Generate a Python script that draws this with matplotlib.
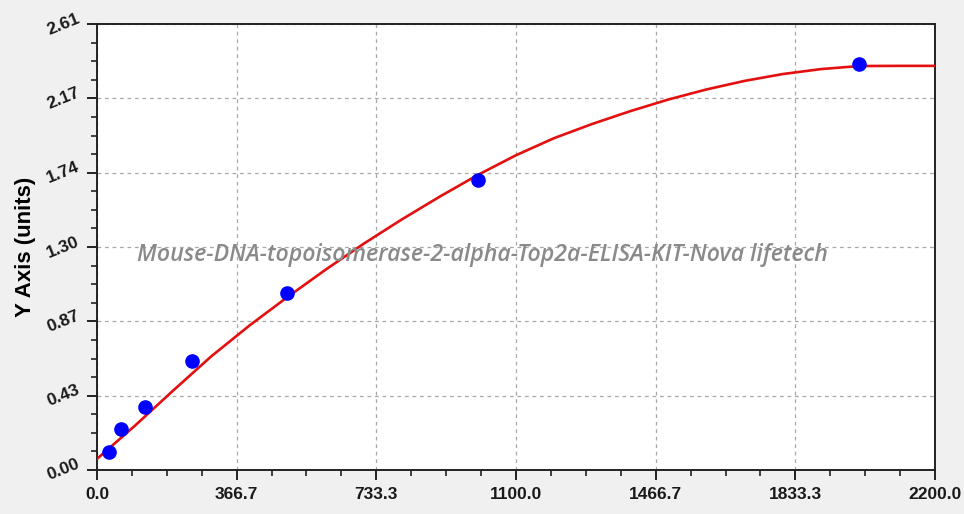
import matplotlib
matplotlib.use("Agg")
import matplotlib.pyplot as plt
from matplotlib.ticker import AutoMinorLocator

# standards (concentration, OD)
conc = [31.25, 62.5, 125, 250, 500, 1000, 2000]
od = [0.107, 0.240, 0.369, 0.638, 1.034, 1.697, 2.376]

# fitted curve, read at every 100 units
curve_x = [0, 100, 200, 300, 400, 500, 600, 700, 800, 900, 1000, 1100,
           1200, 1300, 1400, 1500, 1600, 1700, 1800, 1900, 2000, 2100, 2200]
curve_y = [0.065, 0.26, 0.465, 0.665, 0.845, 1.012, 1.172, 1.324, 1.466, 1.60,
           1.727, 1.842, 1.942, 2.025, 2.10, 2.168, 2.227, 2.277, 2.317, 2.346,
           2.364, 2.365, 2.365]

xticks = [0, 366.7, 733.3, 1100.0, 1466.7, 1833.3, 2200.0]
xlabels = ["0.0", "366.7", "733.3", "1100.0", "1466.7", "1833.3", "2200.0"]
yticks = [0, 0.435, 0.87, 1.305, 1.74, 2.175, 2.61]
ylabels = ["0.00", "0.43", "0.87", "1.30", "1.74", "2.17", "2.61"]

watermark = "Mouse-DNA-topoisomerase-2-alpha-Top2a-ELISA-KIT-Nova lifetech"

plt.rcParams['font.family'] = ['Liberation Sans', 'DejaVu Sans']

fig = plt.figure(figsize=(9.64, 5.14), dpi=100, facecolor="#f0f0f0")
ax = fig.add_axes([0.1006, 0.0856, 0.8693, 0.8677])
ax.set_facecolor("white")

ax.plot(curve_x, curve_y, color="#e41010", lw=1.9, zorder=3)
ax.plot(conc, od, "o", color="#0000ff", ms=9.5, zorder=4)

ax.set_xlim(0, 2200)
ax.set_ylim(0, 2.61)
ax.set_xticks(xticks)
ax.set_xticklabels(xlabels, fontweight="bold", fontsize=12.5, color="#1a1a1a")
ax.set_yticks(yticks)
ax.set_yticklabels(ylabels, fontweight="bold", fontsize=12.5, color="#1a1a1a",
                   rotation=22, va="center")
ax.xaxis.set_minor_locator(AutoMinorLocator(4))
ax.yaxis.set_minor_locator(AutoMinorLocator(4))
ax.tick_params(which="major", direction="out", length=7, width=1.4, color="#222222")
ax.tick_params(which="minor", direction="out", length=4, width=1.2, color="#222222")
ax.tick_params(axis="x", pad=5)
ax.tick_params(axis="y", pad=4)

ax.grid(True, which="major", color="#a8a8a8", ls=(0, (3, 3)), lw=0.9)
ax.set_axisbelow(True)

for side in ["left", "bottom", "top", "right"]:
    ax.spines[side].set_linewidth(1.4)
    ax.spines[side].set_color("#222222")

ax.set_ylabel("Y Axis (units)", fontsize=16, fontweight="bold", labelpad=6)

ax.text(0.46, 0.482, watermark, transform=ax.transAxes, ha="center", va="center",
        fontsize=16.7, fontstyle="italic", fontweight="semibold",
        family=["Open Sans", "DejaVu Sans"], color="#8a8a8a", zorder=5)

fig.savefig("out.png", dpi=100, facecolor=fig.get_facecolor())
